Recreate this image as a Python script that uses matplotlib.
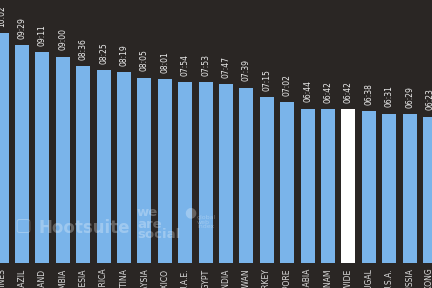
import matplotlib.pyplot as plt

countries = ["PHILIPPINES", "BRAZIL", "THAILAND", "COLOMBIA", "INDONESIA",
             "SOUTH AFRICA", "ARGENTINA", "MALAYSIA", "MEXICO", "U.A.E.",
             "EGYPT", "INDIA", "TAIWAN", "TURKEY", "SINGAPORE",
             "SAUDI ARABIA", "VIETNAM", "WORLDWIDE", "PORTUGAL", "U.S.A.",
             "RUSSIA", "HONG KONG"]
times = ["10:02", "09:29", "09:11", "09:00", "08:36", "08:25", "08:19",
         "08:05", "08:01", "07:54", "07:53", "07:47", "07:39", "07:15",
         "07:02", "06:44", "06:42", "06:42", "06:38", "06:31", "06:29",
         "06:23"]

minutes = [int(t.split(":")[0]) * 60 + int(t.split(":")[1]) for t in times]

bg = "#2a2624"
blue = "#7ab4ea"

fig = plt.figure(figsize=(4.32, 2.88), dpi=100, facecolor=bg)
ax = fig.add_axes([0, 25 / 288, 1, 263 / 288])
ax.set_facecolor(bg)

x = list(range(len(countries)))
colors = ["white" if c == "WORLDWIDE" else blue for c in countries]
ax.bar(x, minutes, width=0.69, color=colors)

for i, m in enumerate(minutes):
    ax.text(i, m + 16, times[i], rotation=90, ha="center", va="bottom",
            fontsize=5.5, color="#eeeeee")

ax.set_xlim(-0.08, 21.1)
ax.set_ylim(0, 688)
ax.set_xticks(x)
ax.set_xticklabels(countries, rotation=90, fontsize=5.5, color="#dddddd")
ax.tick_params(axis="x", length=0, pad=4)
ax.set_yticks([])
for s in ax.spines.values():
    s.set_visible(False)

# watermark logos
wm = dict(color="white", alpha=0.28, va="center")
fig.text(14 / 432, 1 - 226 / 288, "\u25a2", fontsize=13, **wm)
fig.text(38 / 432, 1 - 228 / 288, "Hootsuite", fontsize=12,
         fontweight="bold", **wm)
fig.text(137 / 432, 1 - 224 / 288, "we\nare\nsocial", fontsize=9.5,
         fontweight="bold", linespacing=0.8, **wm)
fig.text(184 / 432, 1 - 212 / 288, "\u25cf", fontsize=10, **wm)
fig.text(197 / 432, 1 - 222 / 288, "global\nweb\nindex", fontsize=4.5,
         linespacing=0.9, **wm)

fig.savefig("out.png", dpi=100, facecolor=bg)
